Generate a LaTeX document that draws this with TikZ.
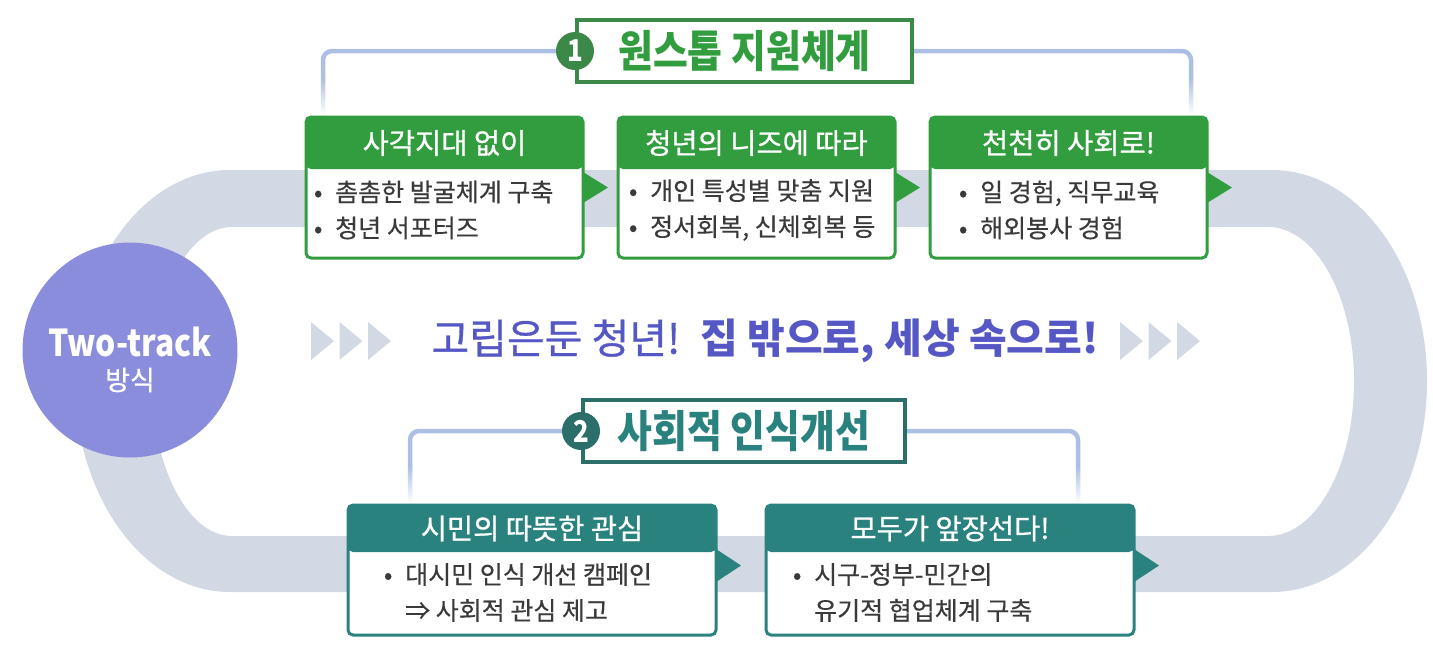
\documentclass[tikz,border=0pt]{standalone}
\usepackage{fontspec}
\setmainfont{Noto Sans CJK KR}
\newfontfamily\narrowkr{Noto Sans CJK KR}[FakeStretch=0.86]
\newfontfamily\bodykr{Noto Sans CJK KR}[FakeBold=0.4]
\newfontfamily\headkr{Noto Sans CJK KR}[FakeBold=0.8]
\usepackage{tikz}
\usetikzlibrary{positioning, calc}
\usetikzlibrary{fadings}
\definecolor{trackgray}{RGB}{211,217,228}
\definecolor{boxgreen}{RGB}{50,157,62}
\definecolor{darkgreen}{RGB}{60,136,72}
\definecolor{boxteal}{RGB}{42,130,127}
\definecolor{darkteal}{RGB}{44,110,106}
\definecolor{linkblue}{RGB}{171,192,228}
\definecolor{circviolet}{RGB}{137,141,220}
\definecolor{slogan}{RGB}{85,88,196}
\definecolor{bodytext}{RGB}{58,58,58}
\tikzfading[name=linkfade, top color=transparent!100, bottom color=transparent!0]
\newcommand{\bul}{\llap{\makebox[34pt][c]{•}}}

\begin{document}
\begin{tikzpicture}[x=1pt,y=-1pt]
	\def \toprow{117}
	\def \botrow{505}
	\tikzstyle{g-frame}=[draw=boxgreen,fill=white,line width=3pt,rounded corners=5pt,outer sep=0pt,anchor=north west,minimum width=277pt,minimum height=141pt]
	\tikzstyle{t-frame}=[g-frame,draw=boxteal,minimum width=368pt,minimum height=130pt]
	\tikzstyle{g-head}=[fill=boxgreen,rounded corners=5pt,outer sep=0pt,anchor=north west,minimum width=277pt,minimum height=52pt,text=white,font=\headkr\fontsize{28.5}{32}\selectfont]
	\tikzstyle{t-head}=[g-head,fill=boxteal,minimum width=368pt,minimum height=47pt]
	\tikzstyle{item}=[anchor=west,align=left,inner sep=0pt,text=bodytext,font=\bodykr\fontsize{25}{36}\selectfont]
	\tikzstyle{title}=[fill=white,line width=4pt,minimum height=62pt,font=\narrowkr\bfseries\fontsize{44}{48}\selectfont]
	\tikzstyle{num}=[circle,minimum size=38pt,inner sep=0pt,text=white,font=\narrowkr\bfseries\fontsize{30}{30}\selectfont]
	\tikzstyle{link}=[draw=linkblue,line width=4.5pt,rounded corners=9pt,shorten >=2pt]
	\useasboundingbox (0,0) rectangle (1433,654);

	% track
	\fill[trackgray,even odd rule]
		(230,170) -- (1272,170) .. controls (1357.6,170) and (1427,264.5) .. (1427,381)
		.. controls (1427,497.5) and (1357.6,592) .. (1272,592) -- (230,592)
		.. controls (144.4,592) and (75,497.5) .. (75,381)
		.. controls (75,264.5) and (144.4,170) .. (230,170) -- cycle
		(232,227) -- (1268,227) .. controls (1315.5,227) and (1354,296.2) .. (1354,381.5)
		.. controls (1354,466.8) and (1315.5,536) .. (1268,536) -- (232,536)
		.. controls (187.8,536) and (152,466.8) .. (152,381.5)
		.. controls (152,296.2) and (187.8,227) .. (232,227) -- cycle;

	% slogan
	\foreach \i in {0,1,2} {
		\fill[trackgray] (311+28.5*\i,322) -- ++(23,19) -- ++(-23,19) -- cycle;
		\fill[trackgray] (1120+28.5*\i,322) -- ++(23,19) -- ++(-23,19) -- cycle;
	}
	\node[anchor=west,text=slogan,font=\fontsize{41}{44}\selectfont] (slg) at (428,341) {{\headkr 고립은둔 청년!}\hspace{20pt}\textbf{집 밖으로, 세상 속으로!}};

	% two-track
	\node[circle,fill=circviolet,minimum size=215pt,inner sep=0pt] (tt) at (130,350) {};
	\node[text=white,font=\narrowkr\bfseries\fontsize{37}{37}\selectfont] (tt-a) at (130,342) {Two-track};
	\node[text=white,font=\headkr\fontsize{27}{27}\selectfont] (tt-b) at (130,380) {방식};

	% one-stop boxes
	\node[g-frame] (b1) at (306,\toprow) {};
	\node[g-frame,right=35pt of b1] (b2) {};
	\node[g-frame,right=35pt of b2] (b3) {};
	\node[g-head] (h1) at (b1.north west) {사각지대 없이};
	\node[g-head] (h2) at (b2.north west) {청년의 니즈에 따라};
	\node[g-head] (h3) at (b3.north west) {천천히 사회로!};
	\node[item] (l1) at ($(h1.south west)+(29,41)$) {\bul 촘촘한 발굴체계 구축\\\bul 청년 서포터즈};
	\node[item] (l2) at ($(h2.south west)+(32,41)$) {\bul 개인 특성별 맞춤 지원\\\bul 정서회복, 신체회복 등};
	\node[item] (l3) at ($(h3.south west)+(50,41)$) {\bul 일 경험, 직무교육\\\bul 해외봉사 경험};
	\foreach \b in {b1,b2,b3}
		\fill[boxgreen] (\b.east) ++(0,-15.5) -- ++(25,15.5) -- ++(-25,15.5) -- cycle;

	% awareness boxes
	\node[t-frame] (b4) at (348,\botrow) {};
	\node[t-frame,right=50pt of b4] (b5) {};
	\node[t-head] (h4) at (b4.north west) {시민의 따뜻한 관심};
	\node[t-head] (h5) at (b5.north west) {모두가 앞장선다!};
	\node[item] (l4) at ($(h4.south west)+(57,40.5)$) {\bul 대시민 인식 개선 캠페인\\⇒ 사회적 관심 제고};
	\node[item] (l5) at ($(h5.south west)+(48,40.5)$) {\bul 시구-정부-민간의\\유기적 협업체계 구축};
	\foreach \b in {b4,b5}
		\fill[boxteal] (\b.east) ++(0,-21) -- ++(25,16.5) -- ++(-25,16.5) -- cycle;

	% titles
	\node[title,draw=darkgreen,text=boxgreen,minimum width=335pt] (t1) at (744.5,51) {원스톱 지원체계};
	\node[num,fill=darkgreen] (n1) at (t1.west) {1};
	\node[title,draw=darkteal,text=boxteal,minimum width=322pt] (t2) at (744,431) {사회적 인식개선};
	\node[num,fill=darkteal] (n2) at (t2.west) {2};

	\draw[link] (n1) -| ([xshift=17pt]b1.north west);
	\draw[link] (t1) -| ([xshift=-16pt]b3.north east);
	\draw[link] (n2) -| ([xshift=62pt]b4.north west);
	\draw[link] (t2) -| ([xshift=-56pt]b5.north east);
	\fill[white,path fading=linkfade] (314,78) rectangle (332,114.5);
	\fill[white,path fading=linkfade] (1182,78) rectangle (1200,114.5);
	\fill[white,path fading=linkfade] (401,466) rectangle (419,502.5);
	\fill[white,path fading=linkfade] (1069,466) rectangle (1087,502.5);
\end{tikzpicture}
\end{document}
